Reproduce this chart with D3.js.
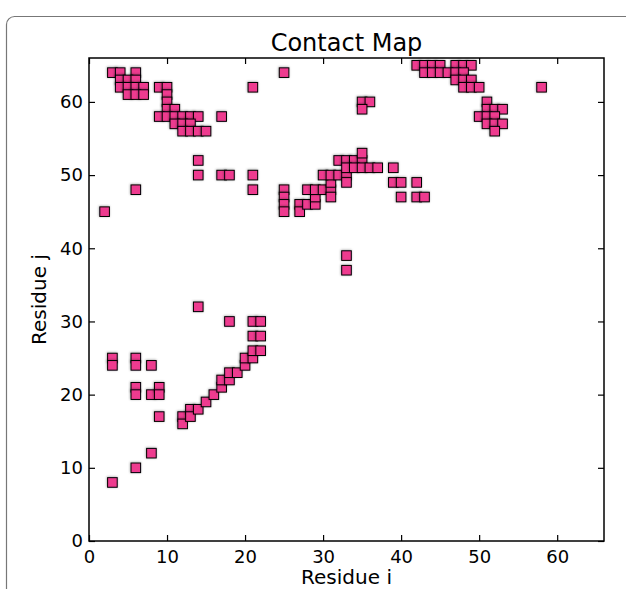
<!DOCTYPE html>
<html>
<head>
<meta charset="utf-8">
<script src="https://cdn.jsdelivr.net/npm/d3@7"></script>
<style>
  body { margin: 0; background: white; }
  svg { display: block; font-family: "DejaVu Sans", sans-serif; }
</style>
</head>
<body>
<svg id="chart" width="626" height="589"></svg>
<script>
// contact pairs (residue i, residue j)
var residueI = [
  3, 6, 8,
  3, 3, 6, 6, 8,
  6, 6, 8, 9, 9, 9,
  12, 12, 13, 13, 14, 15, 16,
  17, 17, 18, 18, 19, 20, 20, 21, 21, 22,
  21, 22, 21, 22, 18, 14,
  33, 33,
  2, 6, 14, 14, 17, 18, 21, 21,
  25, 25, 25, 25, 27, 27, 28, 29, 29, 28, 29, 30, 31, 31, 31,
  30, 31, 32, 33, 33, 32, 33, 34, 35, 35,
  33, 34, 35, 36, 37, 39, 39, 40, 42, 40, 42, 43,
  3, 4, 6, 4, 5, 6, 4, 5, 6, 7, 5, 6, 7,
  9, 10, 10, 10, 10, 11, 9, 10, 11, 12, 13, 14, 11, 12, 13,
  12, 13, 14, 15, 17, 21, 25,
  35, 36, 35,
  42, 43, 44, 45, 47, 48, 49,
  43, 44, 45, 46, 47, 48,
  47, 48, 49,
  48, 49, 50,
  58,
  51, 51, 52, 53, 50, 51, 52, 51, 52, 53, 52
];
var residueJ = [
  8, 10, 12,
  25, 24, 25, 24, 24,
  21, 20, 20, 21, 20, 17,
  17, 16, 18, 17, 18, 19, 20,
  21, 22, 22, 23, 23, 24, 25, 25, 26, 26,
  28, 28, 30, 30, 30, 32,
  37, 39,
  45, 48, 50, 52, 50, 50, 50, 48,
  48, 47, 46, 45, 46, 45, 46, 46, 47, 48, 48, 48, 48, 47, 49,
  50, 50, 50, 50, 49, 52, 52, 52, 52, 53,
  51, 51, 51, 51, 51, 51, 49, 49, 49, 47, 47, 47,
  64, 64, 64, 63, 63, 63, 62, 62, 62, 62, 61, 61, 61,
  62, 62, 61, 60, 59, 59, 58, 58, 58, 58, 58, 58, 57, 57, 57,
  56, 56, 56, 56, 58, 62, 64,
  60, 60, 59,
  65, 65, 65, 65, 65, 65, 65,
  64, 64, 64, 64, 64, 64,
  63, 63, 63,
  62, 62, 62,
  62,
  60, 59, 59, 59, 58, 58, 58, 57, 57, 57, 56
];
var xTicks = [0, 10, 20, 30, 40, 50, 60];
var yTicks = [0, 10, 20, 30, 40, 50, 60];

var contacts = residueI.map(function(d, k) { return {i: d, j: residueJ[k]}; });

// plot box (window.top is read-only, so no bare "top" here)
var plotL = 89, plotR = 604, plotT = 58, plotB = 541;
var svg = d3.select("#chart");

// outer frame with rounded corners, cut by the window edge
svg.append("rect")
  .attr("x", 6.5).attr("y", 16.5)
  .attr("width", 640).attr("height", 600)
  .attr("rx", 8)
  .attr("fill", "white")
  .attr("stroke", "#777").attr("stroke-width", 1.2);

var defs = svg.append("defs");
var f = defs.append("filter").attr("id", "halo")
  .attr("x", "-30%").attr("y", "-30%").attr("width", "160%").attr("height", "160%");
f.append("feDropShadow").attr("dx", -0.4).attr("dy", -0.4)
  .attr("stdDeviation", 0.9).attr("flood-color", "#000").attr("flood-opacity", 0.35);

var x = d3.scaleLinear().domain([0, 66]).range([plotL, plotR]);
var y = d3.scaleLinear().domain([0, 66]).range([plotB, plotT]);

// markers
var side = 9.6;
svg.append("g").selectAll("rect")
  .data(contacts)
  .enter().append("rect")
  .attr("x", function(d) { return x(d.i) - side / 2; })
  .attr("y", function(d) { return y(d.j) - side / 2; })
  .attr("width", side).attr("height", side)
  .attr("fill", "#ee3a8f")
  .attr("stroke", "#000").attr("stroke-width", 1)
  .attr("filter", "url(#halo)");

// axes, ticks pointing inward on all four sides
var xb = svg.append("g").attr("transform", "translate(0," + plotB + ")")
  .call(d3.axisBottom(x).tickValues(xTicks).tickSize(-6).tickPadding(9).tickFormat(d3.format("d")));
var xt = svg.append("g").attr("transform", "translate(0," + plotT + ")")
  .call(d3.axisTop(x).tickValues(xTicks).tickSize(-6).tickFormat(""));
var yl = svg.append("g").attr("transform", "translate(" + plotL + ",0)")
  .call(d3.axisLeft(y).tickValues(yTicks).tickSize(-6).tickPadding(6).tickFormat(d3.format("d")));
var yr = svg.append("g").attr("transform", "translate(" + plotR + ",0)")
  .call(d3.axisRight(y).tickValues(yTicks).tickSize(-6).tickFormat(""));

[xb, xt, yl, yr].forEach(function(g) {
  g.select(".domain").remove();
  g.attr("font-size", null).attr("font-family", null);
  g.selectAll(".tick line").attr("stroke", "#000").attr("stroke-width", 1.2);
  g.selectAll(".tick text").attr("fill", "#000")
    .style("font-family", "'DejaVu Sans', sans-serif").style("font-size", "18px");
});

// spines
svg.append("rect")
  .attr("x", plotL).attr("y", plotT)
  .attr("width", plotR - plotL).attr("height", plotB - plotT)
  .attr("fill", "none").attr("stroke", "#000").attr("stroke-width", 1.5);

svg.append("text")
  .attr("x", (plotL + plotR) / 2).attr("y", 51)
  .attr("text-anchor", "middle")
  .style("font-size", "24px")
  .text("Contact Map");

svg.append("text")
  .attr("x", (plotL + plotR) / 2).attr("y", 584)
  .attr("text-anchor", "middle")
  .style("font-size", "20px")
  .text("Residue i");

svg.append("text")
  .attr("transform", "translate(46," + ((plotT + plotB) / 2) + ") rotate(-90)")
  .attr("text-anchor", "middle")
  .style("font-size", "20px")
  .text("Residue j");
</script>
</body>
</html>
